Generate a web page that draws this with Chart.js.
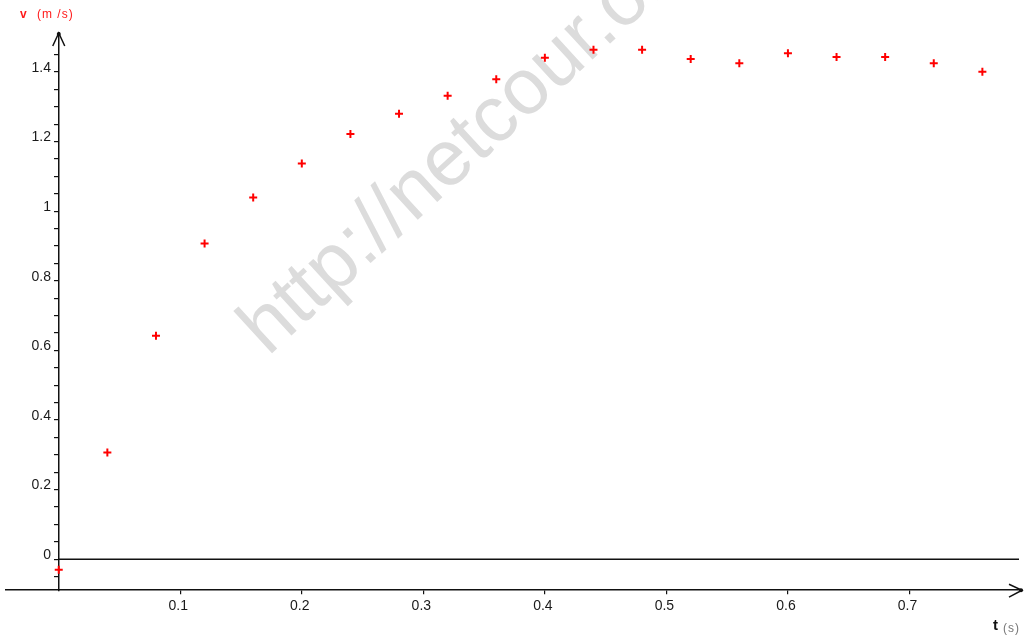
<!DOCTYPE html>
<html>
<head>
<meta charset="utf-8">
<script src="https://cdn.jsdelivr.net/npm/chart.js@4/dist/chart.umd.min.js"></script>
<style>
  html, body { margin: 0; padding: 0; background: #fff; }
  #wrap { width: 1028px; height: 637px; }
</style>
</head>
<body>
<div id="wrap"><canvas id="speedChart" width="1028" height="637"></canvas></div>
<script>
// time (s) and velocity (m/s)
const times = [0, 0.04, 0.08, 0.12, 0.16, 0.20, 0.24, 0.28, 0.32, 0.36,
               0.40, 0.44, 0.48, 0.52, 0.56, 0.60, 0.64, 0.68, 0.72, 0.76];
const speeds = [-0.03, 0.307, 0.642, 0.907, 1.039, 1.137, 1.222, 1.280, 1.332, 1.379,
                1.441, 1.464, 1.464, 1.437, 1.425, 1.454, 1.443, 1.443, 1.425, 1.401];

const xTicks = [0.1, 0.2, 0.3, 0.4, 0.5, 0.6, 0.7];
const yTicks = [0, 0.2, 0.4, 0.6, 0.8, 1, 1.2, 1.4];
const yMinorStep = 0.05;

const xRange = [-0.0434, 0.7926];
const yRange = [-0.089, 1.512];

const labelFont = { family: "'Liberation Sans', Arial, sans-serif", size: 14 };

// arrows, zero line, axis names and the watermark
const decorations = {
    id: "decorations",
    beforeDatasetsDraw(chart) {
        const ctx = chart.ctx;
        ctx.save();
        ctx.translate(268, 357);
        ctx.rotate(-42.5 * Math.PI / 180);
        ctx.fillStyle = "#dcdcdc";
        ctx.font = "79px 'Liberation Sans', Arial, sans-serif";
        ctx.textBaseline = "alphabetic";
        ctx.fillText("http://netcour.org", 0, 0);
        ctx.restore();
    },
    afterDraw(chart) {
        const ctx = chart.ctx;
        const x = chart.scales.x, y = chart.scales.y;
        const area = chart.chartArea;
        const x0 = x.getPixelForValue(0);
        const y0 = y.getPixelForValue(0);
        ctx.save();
        ctx.strokeStyle = "#111";
        ctx.fillStyle = "#111";
        ctx.lineWidth = 1.5;

        // horizontal line at v = 0
        ctx.beginPath();
        ctx.moveTo(x0, y0);
        ctx.lineTo(area.right - 3, y0);
        ctx.stroke();

        // arrow on the time axis
        const ax = area.right, ay = area.bottom;
        ctx.beginPath();
        ctx.moveTo(ax - 13, ay - 6);
        ctx.lineTo(ax, ay);
        ctx.lineTo(ax - 13, ay + 7);
        ctx.stroke();
        ctx.beginPath();
        ctx.arc(ax - 1, ay, 2, 0, Math.PI * 2);
        ctx.fill();

        // arrow on the speed axis
        const bx = x0, by = area.top;
        ctx.beginPath();
        ctx.moveTo(bx - 6, by + 13);
        ctx.lineTo(bx, by);
        ctx.lineTo(bx + 6, by + 13);
        ctx.stroke();
        ctx.beginPath();
        ctx.arc(bx, by + 1, 2, 0, Math.PI * 2);
        ctx.fill();

        // axis names
        ctx.textBaseline = "alphabetic";
        ctx.textAlign = "left";
        ctx.fillStyle = "#ff1a1a";
        ctx.font = "bold 12px 'Liberation Sans', Arial, sans-serif";
        ctx.fillText("v", 20, 18);
        ctx.font = "12px 'Liberation Sans', Arial, sans-serif";
        ctx.letterSpacing = "1px";
        ctx.fillText("(m /s)", 37, 18);

        ctx.fillStyle = "#111";
        ctx.letterSpacing = "0px";
        ctx.font = "bold 15px 'Liberation Sans', Arial, sans-serif";
        ctx.fillText("t", 993, 630);
        ctx.fillStyle = "#777";
        ctx.font = "12px 'Liberation Sans', Arial, sans-serif";
        ctx.letterSpacing = "1px";
        ctx.fillText("(s)", 1003, 632);
        ctx.restore();
    }
};

new Chart(document.getElementById("speedChart").getContext("2d"), {
    type: "scatter",
    data: {
        datasets: [{
            label: "v",
            data: times.map((t, i) => ({ x: t, y: speeds[i] })),
            pointStyle: "cross",
            pointRadius: 4,
            borderColor: "#ff0000",
            backgroundColor: "#ff0000",
            borderWidth: 2
        }]
    },
    options: {
        responsive: false,
        animation: false,
        layout: { padding: { left: 5, right: 3, top: 33, bottom: 18 } },
        plugins: {
            legend: { display: false },
            tooltip: { enabled: false }
        },
        scales: {
            x: {
                type: "linear",
                position: "bottom",
                min: xRange[0],
                max: xRange[1],
                afterBuildTicks: s => { s.ticks = xTicks.map(v => ({ value: v })); },
                border: { display: true, color: "#111", width: 1.5 },
                grid: { drawOnChartArea: false, drawTicks: true, tickLength: 4, color: "#111", lineWidth: 1.2 },
                ticks: {
                    color: "#1a1a1a",
                    font: labelFont,
                    padding: 4,
                    labelOffset: -2,
                    maxRotation: 0,
                    callback: v => String(v)
                }
            },
            y: {
                type: "linear",
                position: { x: 0 },
                min: yRange[0],
                max: yRange[1],
                afterFit: s => { s.width = 0; },
                afterBuildTicks: s => {
                    const list = [];
                    for (let k = -1; k <= 29; k++) list.push({ value: Math.round(k * yMinorStep * 100) / 100 });
                    s.ticks = list;
                },
                border: { display: true, color: "#111", width: 1.5 },
                grid: { drawOnChartArea: false, drawTicks: true, tickLength: 4, color: "#111", lineWidth: 1.2 },
                ticks: {
                    color: "#1a1a1a",
                    font: labelFont,
                    labelOffset: -4,
                    autoSkip: false,
                    // labels sit right-aligned on the axis line, so pad them with spaces
                    callback: v => yTicks.includes(v) ? String(v) + "  " : ""
                }
            }
        }
    },
    plugins: [decorations]
});
</script>
</body>
</html>
